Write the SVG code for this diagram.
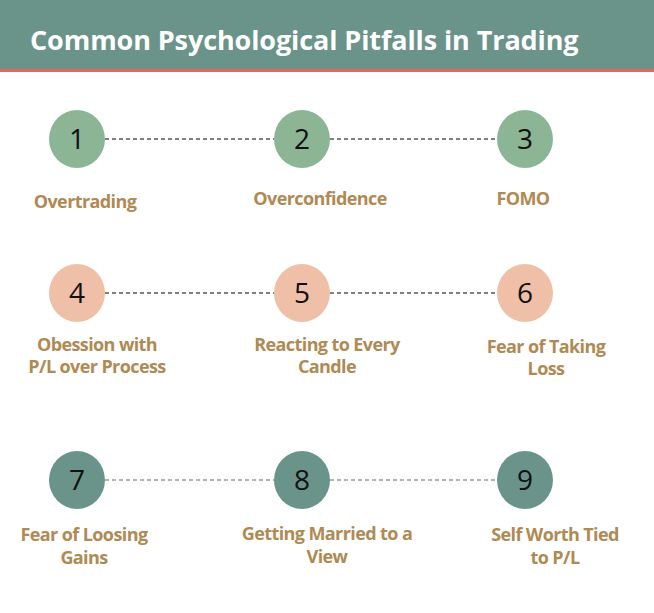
<svg xmlns="http://www.w3.org/2000/svg" width="654" height="613" viewBox="0 0 654 613">
<style>
.lbl{font-family:"Open Sans","Liberation Sans",sans-serif;font-weight:bold;font-size:18px;fill:#b08a54;text-anchor:middle;letter-spacing:-0.6px}
.num{font-family:"Open Sans","Liberation Sans",sans-serif;font-size:28px;fill:#111;text-anchor:middle}
.g{fill:#8bb594}.p{fill:#f0bfa8}.t{fill:#6a9389}
</style>
<rect width="654" height="613" fill="#fff"/>
<rect width="654" height="70" fill="#6a9389"/>
<rect y="69" width="654" height="3" fill="#e06a5e"/>
<text x="30" y="50" font-family="Open Sans,Liberation Sans,sans-serif" font-weight="bold" font-size="27" fill="#fff" letter-spacing="-0.1">Common Psychological Pitfalls in Trading</text>
<g id="connectors" stroke-width="1.5" stroke-dasharray="4,3">
<line x1="105" y1="139" x2="274" y2="139" stroke="#555"/>
<line x1="330" y1="139" x2="497" y2="139" stroke="#555"/>
<line x1="105" y1="293" x2="274" y2="293" stroke="#555"/>
<line x1="330" y1="293" x2="497" y2="293" stroke="#555"/>
<line x1="105" y1="480" x2="274" y2="480" stroke="#999"/>
<line x1="330" y1="480" x2="497" y2="480" stroke="#999"/>
</g>
<g id="n1"><ellipse class="g" cx="77" cy="139" rx="28" ry="29"/><text class="num" x="77" y="149">1</text><text class="lbl" x="85" y="208">Overtrading</text></g>
<g id="n2"><ellipse class="g" cx="302" cy="139" rx="28" ry="29"/><text class="num" x="302" y="149">2</text><text class="lbl" x="320" y="205">Overconfidence</text></g>
<g id="n3"><ellipse class="g" cx="525" cy="139" rx="28" ry="29"/><text class="num" x="525" y="149">3</text><text class="lbl" x="523" y="205">FOMO</text></g>
<g id="n4"><ellipse class="p" cx="77" cy="293" rx="28" ry="29"/><text class="num" x="77" y="303">4</text><text class="lbl" x="97" y="351">Obession with</text><text class="lbl" x="97" y="373">P/L over Process</text></g>
<g id="n5"><ellipse class="p" cx="302" cy="293" rx="28" ry="29"/><text class="num" x="302" y="303">5</text><text class="lbl" x="327" y="351">Reacting to Every</text><text class="lbl" x="327" y="373">Candle</text></g>
<g id="n6"><ellipse class="p" cx="525" cy="293" rx="28" ry="29"/><text class="num" x="525" y="303">6</text><text class="lbl" x="546" y="353">Fear of Taking</text><text class="lbl" x="546" y="375">Loss</text></g>
<g id="n7"><ellipse class="t" cx="77" cy="480" rx="28" ry="29"/><text class="num" x="77" y="490">7</text><text class="lbl" x="84" y="541">Fear of Loosing</text><text class="lbl" x="84" y="564">Gains</text></g>
<g id="n8"><ellipse class="t" cx="302" cy="480" rx="28" ry="29"/><text class="num" x="302" y="490">8</text><text class="lbl" x="327" y="540">Getting Married to a</text><text class="lbl" x="327" y="563">View</text></g>
<g id="n9"><ellipse class="t" cx="525" cy="480" rx="28" ry="29"/><text class="num" x="525" y="490">9</text><text class="lbl" x="555" y="541">Self Worth Tied</text><text class="lbl" x="555" y="564">to P/L</text></g>
</svg>
